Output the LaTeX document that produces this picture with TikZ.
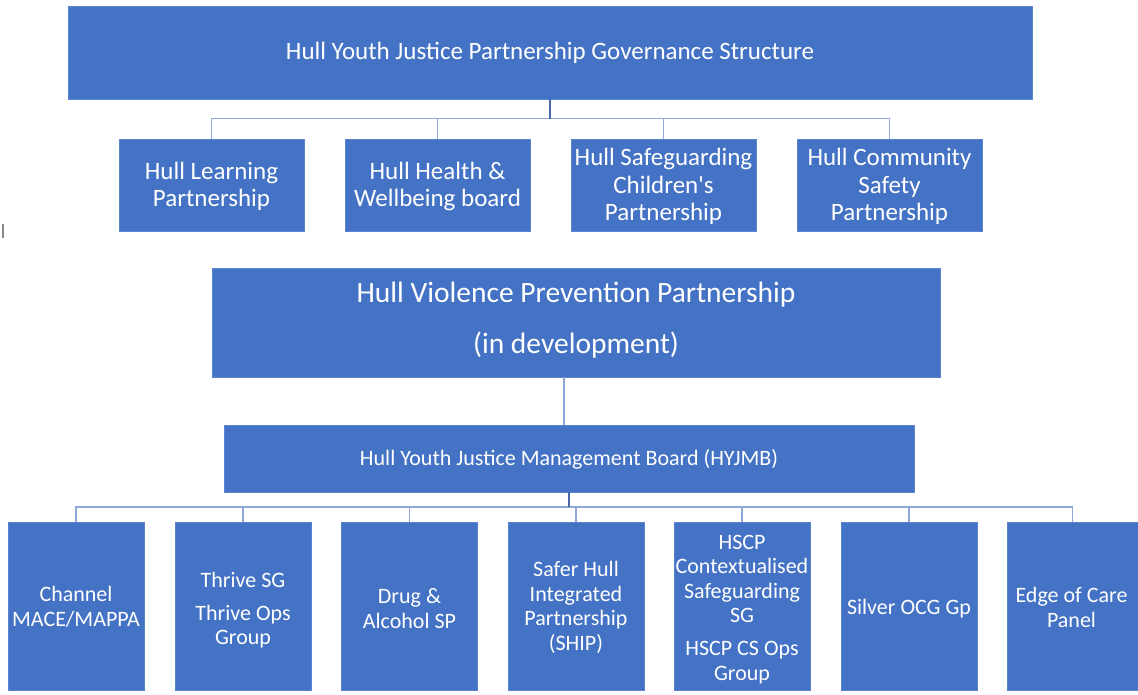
\documentclass[tikz,border=0pt]{standalone}
\usepackage{fontspec}
\setmainfont{Carlito}
\definecolor{boxblue}{HTML}{4472C4}
\definecolor{boxedge}{HTML}{5A84CE}
\definecolor{connblue}{HTML}{8FA8D8}
\definecolor{trunkblue}{HTML}{4A68A8}
\definecolor{cursorgray}{HTML}{8A8A8A}
\tikzset{
  box/.style={rectangle, fill=boxblue, draw=boxedge, line width=0.8pt, text=white, align=center, inner sep=0pt},
  lbl/.style={text=white, align=center, inner sep=0pt},
  toptext/.style={font=\fontsize{25}{30}\selectfont},
  midtext/.style={font=\fontsize{25}{27.5}\selectfont},
  vptext/.style={font=\fontsize{29.5}{51}\selectfont},
  boardtext/.style={font=\fontsize{22}{26}\selectfont},
  lowtext/.style={font=\fontsize{22}{24.5}\selectfont},
  midbox/.style={box, minimum width=185pt, minimum height=92pt},
  lowbox/.style={box, minimum width=136pt, minimum height=168pt},
  conn/.style={draw=connblue, line width=1.3pt},
  trunk/.style={draw=trunkblue, line width=1.3pt},
}
\begin{document}
\begin{tikzpicture}[x=1pt, y=-1pt]
\useasboundingbox (0,0) rectangle (1138,694);
\fill[white] (0,0) rectangle (1138,694);

% top box
\node[box, toptext, minimum width=964pt, minimum height=93pt] (top) at (550,52.5)
  {Hull Youth Justice Partnership Governance Structure};

% second row
\node[midbox] (r1) at (211.5,185) {};
\node[midbox] (r2) at (437.5,185) {};
\node[midbox] (r3) at (663.5,185) {};
\node[midbox] (r4) at (889.5,185) {};
\node[lbl, midtext] (r1t) at (211.5,186.5) {Hull Learning\\Partnership};
\node[lbl, midtext] (r2t) at (437.5,186.5) {Hull Health \&\\Wellbeing board};
\node[lbl, midtext] (r3t) at (663.5,186.5) {Hull Safeguarding\\Children\textquotesingle s\\Partnership};
\node[lbl, midtext] (r4t) at (889.5,186.5) {Hull Community\\Safety\\Partnership};

% violence prevention partnership
\node[box, minimum width=728pt, minimum height=109pt] (vp) at (576,322.5) {};
\node[lbl, vptext] (vptxt) at (576,320.5) {Hull Violence Prevention Partnership\\(in development)};

% management board
\node[box, minimum width=690pt, minimum height=67pt] (hy) at (569,458.5) {};
\node[lbl, boardtext] (hyt) at (569,459.5) {Hull Youth Justice Management Board (HYJMB)};

% bottom row
\node[lowbox] (b1) at (76,606) {};
\node[lowbox] (b2) at (243,606) {};
\node[lowbox] (b3) at (409.5,606) {};
\node[lowbox] (b4) at (576,606) {};
\node[lowbox] (b5) at (742,606) {};
\node[lowbox] (b6) at (909,606) {};
\node[lowbox, minimum width=131pt] (b7) at (1072.5,606) {};
\node[lbl, lowtext] (b1t) at (76,607) {Channel\\MACE/MAPPA};
\node[lbl, lowtext] (b2t) at (243,610) {Thrive SG\\[8.5pt]Thrive Ops\\Group};
\node[lbl, lowtext] (b3t) at (409.5,608.5) {Drug \&\\Alcohol SP};
\node[lbl, lowtext] (b4t) at (576,607.5) {Safer Hull\\Integrated\\Partnership\\(SHIP)};
\node[lbl, lowtext] (b5t) at (742,609.5) {HSCP\\Contextualised\\Safeguarding\\SG\\[8.5pt]HSCP CS Ops\\Group};
\node[lbl, lowtext] (b6t) at (909,609) {Silver OCG Gp};
\node[lbl, lowtext] (b7t) at (1071.5,607.5) {Edge of Care\\Panel};

% connectors top
\coordinate (bus1) at (550,118.5);
\draw[conn] (r1.north) -- (r1.north |- bus1) -- (r4.north |- bus1) -- (r4.north);
\draw[conn] (r2.north) -- (r2.north |- bus1);
\draw[conn] (r3.north) -- (r3.north |- bus1);
\draw[trunk] (top.south) -- (top.south |- bus1);

% connector between vp and board
\coordinate (vx) at (564,0);
\draw[conn] (vp.south -| vx) -- (hy.north -| vx);

% connectors bottom
\coordinate (bus2) at (569,507);
\draw[conn] (b1.north) -- (b1.north |- bus2) -- (b7.north |- bus2) -- (b7.north);
\foreach \n in {b2,b3,b4,b5,b6}{
  \draw[conn] (\n.north) -- (\n.north |- bus2);
}
\draw[trunk] (hy.south) -- (hy.south |- bus2);

% stray text cursor mark
\draw[cursorgray, line width=1.2pt] (3,224) -- (3,238);
\end{tikzpicture}
\end{document}
